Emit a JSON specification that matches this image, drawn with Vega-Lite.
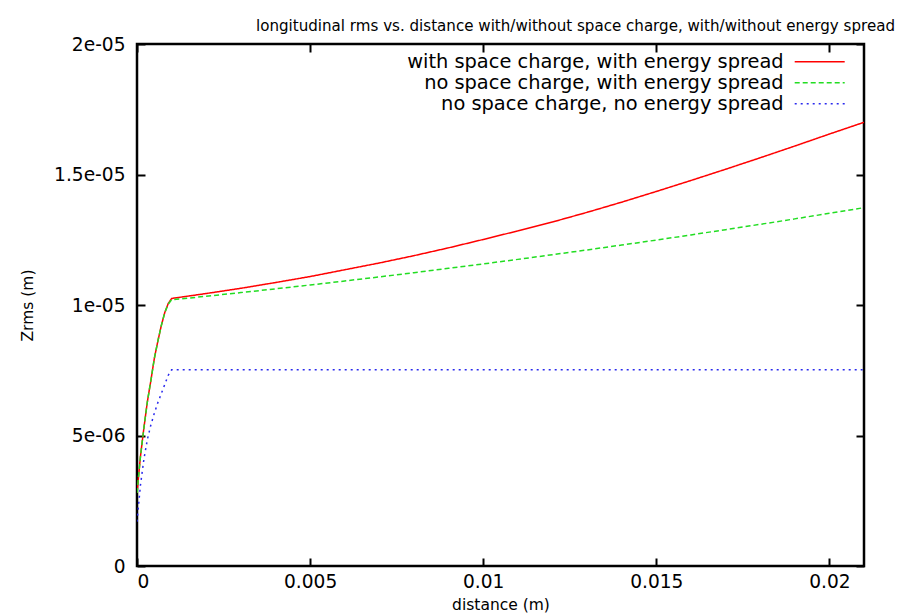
{
  "$schema": "https://vega.github.io/schema/vega-lite/v6.json",
  "width": 727,
  "height": 522,
  "autosize": {"type": "none"},
  "padding": {"left": 137, "top": 44, "right": 45, "bottom": 50},
  "background": "white",
  "title": {
    "text": "longitudinal rms vs. distance with/without space charge, with/without energy spread",
    "font": "DejaVu Sans",
    "fontSize": 15.1,
    "fontWeight": "normal",
    "color": "black",
    "anchor": "middle",
    "dx": 75,
    "dy": 28,
    "baseline": "alphabetic",
    "offset": 17
  },
  "config": {
    "view": {"stroke": "black", "strokeWidth": 2.5},
    "axis": {
      "domain": false,
      "grid": false,
      "tickColor": "black",
      "tickWidth": 2,
      "tickSize": -8,
      "labelFont": "DejaVu Sans",
      "labelFontSize": 18.6,
      "labelColor": "black",
      "titleFont": "DejaVu Sans",
      "titleFontSize": 15.5,
      "titleFontWeight": "normal",
      "titleColor": "black"
    },
    "legend": {
      "orient": "none",
      "legendX": 673,
      "legendY": 8,
      "padding": 0,
      "symbolType": "M-5,0H5",
      "symbolSize": 100,
      "symbolStrokeWidth": 1.5,
      "symbolFillColor": "transparent",
      "labelFont": "DejaVu Sans",
      "labelFontSize": 19.4,
      "labelColor": "black",
      "labelAlign": "right",
      "labelOffset": -45.75,
      "labelLimit": 600,
      "rowPadding": 0
    }
  },
  "data": {
    "values": [
      {"series": "with space charge, with energy spread", "distance": 0, "zrms": 2.8e-6},
      {"series": "with space charge, with energy spread", "distance": 0.0001, "zrms": 4.2e-6},
      {"series": "with space charge, with energy spread", "distance": 0.0002, "zrms": 5.3e-6},
      {"series": "with space charge, with energy spread", "distance": 0.0003, "zrms": 6.3e-6},
      {"series": "with space charge, with energy spread", "distance": 0.0004, "zrms": 7.1e-6},
      {"series": "with space charge, with energy spread", "distance": 0.0005, "zrms": 7.95e-6},
      {"series": "with space charge, with energy spread", "distance": 0.0006, "zrms": 8.6e-6},
      {"series": "with space charge, with energy spread", "distance": 0.0007, "zrms": 9.2e-6},
      {"series": "with space charge, with energy spread", "distance": 0.0008, "zrms": 9.7e-6},
      {"series": "with space charge, with energy spread", "distance": 0.0009, "zrms": 1.005e-5},
      {"series": "with space charge, with energy spread", "distance": 0.001, "zrms": 1.025e-5},
      {"series": "with space charge, with energy spread", "distance": 0.002, "zrms": 1.044e-5},
      {"series": "with space charge, with energy spread", "distance": 0.003, "zrms": 1.064e-5},
      {"series": "with space charge, with energy spread", "distance": 0.004, "zrms": 1.086e-5},
      {"series": "with space charge, with energy spread", "distance": 0.005, "zrms": 1.109e-5},
      {"series": "with space charge, with energy spread", "distance": 0.006, "zrms": 1.135e-5},
      {"series": "with space charge, with energy spread", "distance": 0.007, "zrms": 1.161e-5},
      {"series": "with space charge, with energy spread", "distance": 0.008, "zrms": 1.189e-5},
      {"series": "with space charge, with energy spread", "distance": 0.009, "zrms": 1.219e-5},
      {"series": "with space charge, with energy spread", "distance": 0.01, "zrms": 1.251e-5},
      {"series": "with space charge, with energy spread", "distance": 0.011, "zrms": 1.284e-5},
      {"series": "with space charge, with energy spread", "distance": 0.012, "zrms": 1.318e-5},
      {"series": "with space charge, with energy spread", "distance": 0.013, "zrms": 1.355e-5},
      {"series": "with space charge, with energy spread", "distance": 0.014, "zrms": 1.394e-5},
      {"series": "with space charge, with energy spread", "distance": 0.015, "zrms": 1.435e-5},
      {"series": "with space charge, with energy spread", "distance": 0.016, "zrms": 1.477e-5},
      {"series": "with space charge, with energy spread", "distance": 0.017, "zrms": 1.52e-5},
      {"series": "with space charge, with energy spread", "distance": 0.018, "zrms": 1.564e-5},
      {"series": "with space charge, with energy spread", "distance": 0.019, "zrms": 1.609e-5},
      {"series": "with space charge, with energy spread", "distance": 0.02, "zrms": 1.655e-5},
      {"series": "with space charge, with energy spread", "distance": 0.021, "zrms": 1.7e-5},
      {"series": "no space charge, with energy spread", "distance": 0, "zrms": 2.8e-6},
      {"series": "no space charge, with energy spread", "distance": 0.0001, "zrms": 4.2e-6},
      {"series": "no space charge, with energy spread", "distance": 0.0002, "zrms": 5.3e-6},
      {"series": "no space charge, with energy spread", "distance": 0.0003, "zrms": 6.3e-6},
      {"series": "no space charge, with energy spread", "distance": 0.0004, "zrms": 7.1e-6},
      {"series": "no space charge, with energy spread", "distance": 0.0005, "zrms": 7.95e-6},
      {"series": "no space charge, with energy spread", "distance": 0.0006, "zrms": 8.6e-6},
      {"series": "no space charge, with energy spread", "distance": 0.0007, "zrms": 9.2e-6},
      {"series": "no space charge, with energy spread", "distance": 0.0008, "zrms": 9.7e-6},
      {"series": "no space charge, with energy spread", "distance": 0.0009, "zrms": 1.003e-5},
      {"series": "no space charge, with energy spread", "distance": 0.001, "zrms": 1.02e-5},
      {"series": "no space charge, with energy spread", "distance": 0.002, "zrms": 1.0335e-5},
      {"series": "no space charge, with energy spread", "distance": 0.003, "zrms": 1.0475e-5},
      {"series": "no space charge, with energy spread", "distance": 0.004, "zrms": 1.062e-5},
      {"series": "no space charge, with energy spread", "distance": 0.005, "zrms": 1.0767e-5},
      {"series": "no space charge, with energy spread", "distance": 0.006, "zrms": 1.092e-5},
      {"series": "no space charge, with energy spread", "distance": 0.007, "zrms": 1.1077e-5},
      {"series": "no space charge, with energy spread", "distance": 0.008, "zrms": 1.1238e-5},
      {"series": "no space charge, with energy spread", "distance": 0.009, "zrms": 1.1404e-5},
      {"series": "no space charge, with energy spread", "distance": 0.01, "zrms": 1.1574e-5},
      {"series": "no space charge, with energy spread", "distance": 0.011, "zrms": 1.1748e-5},
      {"series": "no space charge, with energy spread", "distance": 0.012, "zrms": 1.1927e-5},
      {"series": "no space charge, with energy spread", "distance": 0.013, "zrms": 1.2109e-5},
      {"series": "no space charge, with energy spread", "distance": 0.014, "zrms": 1.2297e-5},
      {"series": "no space charge, with energy spread", "distance": 0.015, "zrms": 1.2488e-5},
      {"series": "no space charge, with energy spread", "distance": 0.016, "zrms": 1.2685e-5},
      {"series": "no space charge, with energy spread", "distance": 0.017, "zrms": 1.2886e-5},
      {"series": "no space charge, with energy spread", "distance": 0.018, "zrms": 1.309e-5},
      {"series": "no space charge, with energy spread", "distance": 0.019, "zrms": 1.33e-5},
      {"series": "no space charge, with energy spread", "distance": 0.02, "zrms": 1.3512e-5},
      {"series": "no space charge, with energy spread", "distance": 0.021, "zrms": 1.373e-5},
      {"series": "no space charge, no energy spread", "distance": 0, "zrms": 1.7e-6},
      {"series": "no space charge, no energy spread", "distance": 0.0001, "zrms": 3.1e-6},
      {"series": "no space charge, no energy spread", "distance": 0.0002, "zrms": 4.1e-6},
      {"series": "no space charge, no energy spread", "distance": 0.0003, "zrms": 4.85e-6},
      {"series": "no space charge, no energy spread", "distance": 0.0004, "zrms": 5.4e-6},
      {"series": "no space charge, no energy spread", "distance": 0.0005, "zrms": 5.85e-6},
      {"series": "no space charge, no energy spread", "distance": 0.0006, "zrms": 6.25e-6},
      {"series": "no space charge, no energy spread", "distance": 0.0007, "zrms": 6.6e-6},
      {"series": "no space charge, no energy spread", "distance": 0.0008, "zrms": 6.95e-6},
      {"series": "no space charge, no energy spread", "distance": 0.0009, "zrms": 7.3e-6},
      {"series": "no space charge, no energy spread", "distance": 0.001, "zrms": 7.52e-6},
      {"series": "no space charge, no energy spread", "distance": 0.002, "zrms": 7.52e-6},
      {"series": "no space charge, no energy spread", "distance": 0.003, "zrms": 7.52e-6},
      {"series": "no space charge, no energy spread", "distance": 0.004, "zrms": 7.52e-6},
      {"series": "no space charge, no energy spread", "distance": 0.005, "zrms": 7.52e-6},
      {"series": "no space charge, no energy spread", "distance": 0.006, "zrms": 7.52e-6},
      {"series": "no space charge, no energy spread", "distance": 0.007, "zrms": 7.52e-6},
      {"series": "no space charge, no energy spread", "distance": 0.008, "zrms": 7.52e-6},
      {"series": "no space charge, no energy spread", "distance": 0.009, "zrms": 7.52e-6},
      {"series": "no space charge, no energy spread", "distance": 0.01, "zrms": 7.52e-6},
      {"series": "no space charge, no energy spread", "distance": 0.011, "zrms": 7.52e-6},
      {"series": "no space charge, no energy spread", "distance": 0.012, "zrms": 7.52e-6},
      {"series": "no space charge, no energy spread", "distance": 0.013, "zrms": 7.52e-6},
      {"series": "no space charge, no energy spread", "distance": 0.014, "zrms": 7.52e-6},
      {"series": "no space charge, no energy spread", "distance": 0.015, "zrms": 7.52e-6},
      {"series": "no space charge, no energy spread", "distance": 0.016, "zrms": 7.52e-6},
      {"series": "no space charge, no energy spread", "distance": 0.017, "zrms": 7.52e-6},
      {"series": "no space charge, no energy spread", "distance": 0.018, "zrms": 7.52e-6},
      {"series": "no space charge, no energy spread", "distance": 0.019, "zrms": 7.52e-6},
      {"series": "no space charge, no energy spread", "distance": 0.02, "zrms": 7.52e-6},
      {"series": "no space charge, no energy spread", "distance": 0.021, "zrms": 7.52e-6}
    ]
  },
  "layer": [
    {
      "mark": {"type": "line", "strokeWidth": 1.5, "clip": true},
      "encoding": {
        "x": {
          "field": "distance", "type": "quantitative",
          "scale": {"domain": [0, 0.021], "nice": false, "zero": false},
          "axis": {"orient": "bottom", "values": [0, 0.005, 0.01, 0.015, 0.02], "format": "~g", "labelPadding": 14, "title": "distance (m)", "titleBaseline": "alphabetic", "titleY": 43}
        },
        "y": {
          "field": "zrms", "type": "quantitative",
          "scale": {"domain": [0, 2e-5], "nice": false},
          "axis": {"orient": "left", "values": [0, 5e-6, 1e-5, 1.5e-5, 2e-5], "labelExpr": "datum.value == 0 ? '0' : replace(format(datum.value, '~e'), 'e-', 'e-0')", "labelPadding": 20, "title": "Zrms (m)", "titleX": -110, "titleY": 261, "titleBaseline": "middle", "titleAlign": "center"}
        },
        "color": {
          "field": "series", "type": "nominal",
          "scale": {"domain": ["with space charge, with energy spread", "no space charge, with energy spread", "no space charge, no energy spread"], "range": ["#ff0000", "#22dd22", "#2a2aee"]},
          "legend": {"title": null}
        },
        "strokeDash": {
          "field": "series", "type": "nominal",
          "scale": {"domain": ["with space charge, with energy spread", "no space charge, with energy spread", "no space charge, no energy spread"], "range": [[1, 0], [5, 3], [2, 4]]},
          "legend": {"title": null}
        }
      }
    },
    {
      "mark": {"type": "point", "opacity": 0},
      "encoding": {
        "x": {
          "field": "distance", "type": "quantitative",
          "axis": {"orient": "top", "values": [0, 0.005, 0.01, 0.015, 0.02], "labels": false, "title": null}
        },
        "y": {
          "field": "zrms", "type": "quantitative",
          "axis": {"orient": "right", "values": [0, 5e-6, 1e-5, 1.5e-5, 2e-5], "labels": false, "title": null}
        }
      }
    }
  ],
  "resolve": {"axis": {"x": "independent", "y": "independent"}}
}
